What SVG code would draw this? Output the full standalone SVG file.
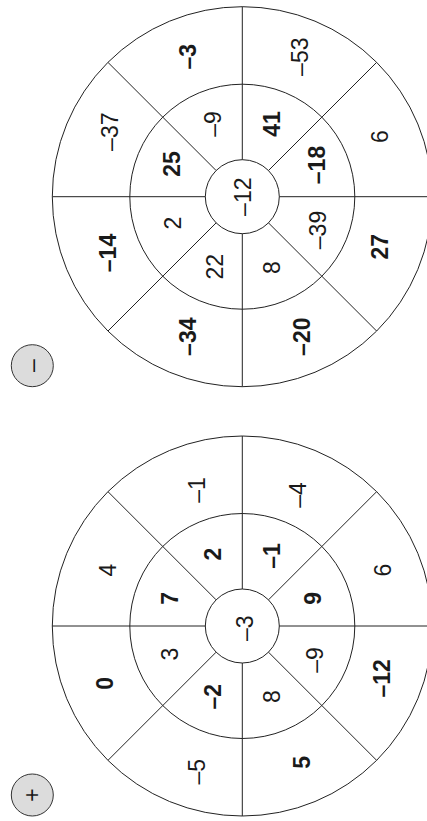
<svg xmlns="http://www.w3.org/2000/svg" width="427" height="821" viewBox="0 0 427 821">
<style>
.ring{fill:none;stroke:#222;stroke-width:1}
.spoke{stroke:#222;stroke-width:1}
.t{font-family:"Liberation Sans",Arial,sans-serif;font-size:23px;fill:#1a1a1a;text-anchor:middle;dominant-baseline:central}
.b{font-weight:bold}
.sign{fill:#dcdcdc;stroke:#333;stroke-width:1}
</style>
<rect width="427" height="821" fill="#fff"/>
<g id="minus-wheel">
<circle class="ring" cx="242.3" cy="196.7" r="190"/>
<circle class="ring" cx="242.3" cy="196.7" r="112.5"/>
<circle class="ring" cx="242.3" cy="196.7" r="37"/>
<g id="minus-spokes">
<line class="spoke" x1="242.3" y1="6.7" x2="242.3" y2="159.7"/>
<line class="spoke" x1="242.3" y1="233.7" x2="242.3" y2="386.7"/>
<line class="spoke" x1="52.3" y1="196.7" x2="205.3" y2="196.7"/>
<line class="spoke" x1="279.3" y1="196.7" x2="432.3" y2="196.7"/>
<line class="spoke" x1="108" y1="62.4" x2="216.1" y2="170.5"/>
<line class="spoke" x1="268.5" y1="222.9" x2="376.6" y2="331"/>
<line class="spoke" x1="376.6" y1="62.4" x2="268.5" y2="170.5"/>
<line class="spoke" x1="216.1" y1="222.9" x2="108" y2="331"/>
</g>
<g class="t">
<text transform="translate(188,56.7) rotate(-90)" class="b">–3</text>
<text transform="translate(300,56.7) rotate(-90)">–53</text>
<text transform="translate(110,131.7) rotate(-90)">–37</text>
<text transform="translate(380,136.7) rotate(-90)">6</text>
<text transform="translate(213,124) rotate(-90)">–9</text>
<text transform="translate(271.7,124) rotate(-90)" class="b">41</text>
<text transform="translate(171.7,164) rotate(-90)" class="b">25</text>
<text transform="translate(316.7,165) rotate(-90)" class="b">–18</text>
<text transform="translate(243,196.7) rotate(-90)">–12</text>
<text transform="translate(173,223) rotate(-90)">2</text>
<text transform="translate(318,230) rotate(-90)">–39</text>
<text transform="translate(215,266.7) rotate(-90)">22</text>
<text transform="translate(271.7,267.7) rotate(-90)">8</text>
<text transform="translate(108,253) rotate(-90)" class="b">–14</text>
<text transform="translate(380,246.7) rotate(-90)" class="b">27</text>
<text transform="translate(188,336.7) rotate(-90)" class="b">–34</text>
<text transform="translate(301.7,336.7) rotate(-90)" class="b">–20</text>
</g>
</g>
<g id="minus-sign">
<circle class="sign" cx="32.3" cy="365.7" r="21"/>
<text class="t" transform="translate(32.3,365.7) rotate(-90)">–</text>
</g>
<g id="plus-wheel">
<circle class="ring" cx="242.3" cy="626" r="190"/>
<circle class="ring" cx="242.3" cy="626" r="112.5"/>
<circle class="ring" cx="242.3" cy="626" r="37"/>
<g id="plus-spokes">
<line class="spoke" x1="242.3" y1="436" x2="242.3" y2="589"/>
<line class="spoke" x1="242.3" y1="663" x2="242.3" y2="816"/>
<line class="spoke" x1="52.3" y1="626" x2="205.3" y2="626"/>
<line class="spoke" x1="279.3" y1="626" x2="432.3" y2="626"/>
<line class="spoke" x1="108" y1="491.7" x2="216.1" y2="599.8"/>
<line class="spoke" x1="268.5" y1="652.2" x2="376.6" y2="760.3"/>
<line class="spoke" x1="376.6" y1="491.7" x2="268.5" y2="599.8"/>
<line class="spoke" x1="216.1" y1="652.2" x2="108" y2="760.3"/>
</g>
<g class="t">
<text transform="translate(196.7,490) rotate(-90)">–1</text>
<text transform="translate(298.3,495) rotate(-90)">–4</text>
<text transform="translate(108.3,570) rotate(-90)">4</text>
<text transform="translate(383.3,570) rotate(-90)">6</text>
<text transform="translate(213.3,554) rotate(-90)" class="b">2</text>
<text transform="translate(271.7,556) rotate(-90)" class="b">–1</text>
<text transform="translate(170,598.3) rotate(-90)" class="b">7</text>
<text transform="translate(313.3,598.3) rotate(-90)" class="b">9</text>
<text transform="translate(245,628.3) rotate(-90)">–3</text>
<text transform="translate(170,654) rotate(-90)">3</text>
<text transform="translate(315,660) rotate(-90)">–9</text>
<text transform="translate(213.3,696.7) rotate(-90)" class="b">–2</text>
<text transform="translate(271.7,696.7) rotate(-90)">8</text>
<text transform="translate(105,683.3) rotate(-90)" class="b">0</text>
<text transform="translate(381.7,678.3) rotate(-90)" class="b">–12</text>
<text transform="translate(196.7,771.7) rotate(-90)">–5</text>
<text transform="translate(301.7,762.3) rotate(-90)" class="b">5</text>
</g>
</g>
<g id="plus-sign">
<circle class="sign" cx="32.3" cy="795" r="21"/>
<text class="t" transform="translate(32.3,795) rotate(-90)">+</text>
</g>
</svg>
